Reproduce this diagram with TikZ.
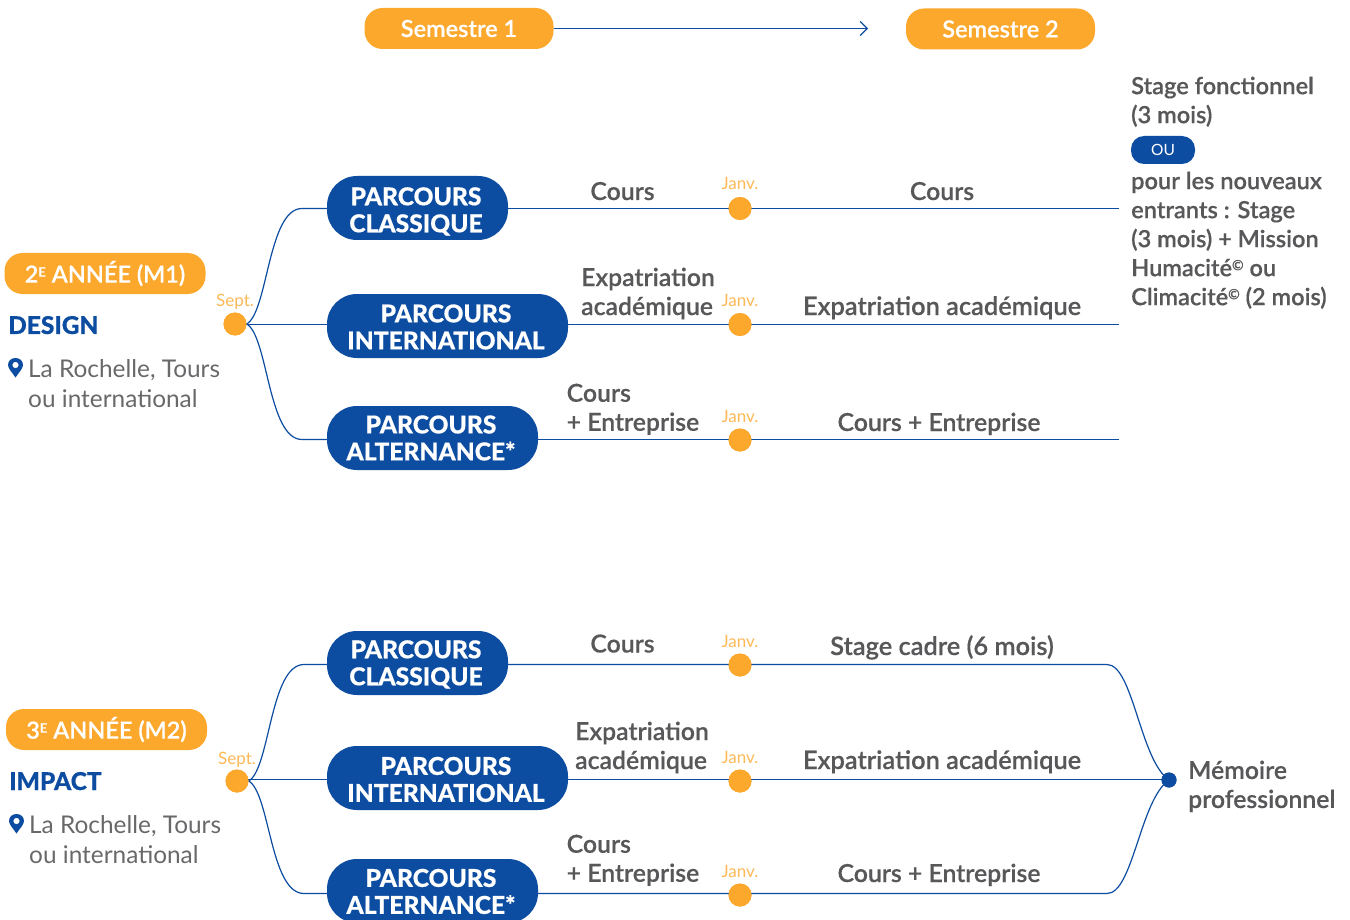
\documentclass[tikz,border=0pt]{standalone}
\usepackage{fontspec}
\setmainfont{Lato}
\newfontfamily\medfont[FakeBold=0.3]{Lato Semibold}
\newfontfamily\heavyfont[FakeBold=0.5]{Lato Heavy}
\usetikzlibrary{arrows.meta}
\definecolor{navy}{HTML}{0D4DA1}
\definecolor{amber}{HTML}{FCA82D}
\definecolor{greytxt}{HTML}{58585A}
\tikzset{
  pill/.style={fill=navy,text=white,rounded corners=30pt,minimum height=64pt,inner sep=0pt,align=center,font=\fontsize{24.6}{27}\selectfont\heavyfont},
  sem/.style={fill=amber,text=white,rounded corners=18pt,minimum height=41pt,minimum width=189pt,inner sep=0pt,font=\fontsize{23.5}{27}\selectfont\medfont},
  year/.style={fill=amber,text=white,rounded corners=18pt,minimum height=41pt,minimum width=201pt,inner sep=0pt,font=\fontsize{23.5}{27}\selectfont\medfont},
  lbl/.style={text=greytxt,inner sep=0pt,align=left,font=\fontsize{24.8}{29}\selectfont\medfont},
  wide/.style={font=\fontsize{25.4}{29}\selectfont\medfont},
  side/.style={font=\fontsize{23.6}{29}\selectfont\medfont},
  mon/.style={text=amber!80!white,inner sep=0pt,font=\fontsize{17}{18}\selectfont},
  dot/.style={circle,fill=amber,minimum size=23pt,inner sep=0pt},
  enddot/.style={circle,fill=navy,minimum size=15pt,inner sep=0pt},
  head/.style={text=navy,inner sep=0pt,anchor=base west,font=\fontsize{24.5}{29}\selectfont\heavyfont},
  place/.style={text=greytxt!90,inner sep=0pt,align=left,font=\fontsize{24.4}{29.5}\selectfont},
  link/.style={draw=navy,line width=1.2pt},
}
\newcommand{\pinicon}[2]{%
  \fill[navy,even odd rule,shift={(#1,#2)}] (0,9.5) .. controls (-3,5) and (-7.5,0.5) .. (-7.5,-3) .. controls (-7.5,-7.3) and (-4,-10) .. (0,-10) .. controls (4,-10) and (7.5,-7.3) .. (7.5,-3) .. controls (7.5,0.5) and (3,5) .. (0,9.5) -- cycle (0,-3) circle (3.2);}
\newcommand{\supE}{\raisebox{6pt}{\fontsize{13}{13}\selectfont E}}
\newcommand{\copyr}{\raisebox{6pt}{\fontsize{14}{14}\selectfont ©}}
\newcommand{\pad}[1]{\rule{0pt}{#1pt}}
\newcommand{\lft}{\hspace*{3pt}}
\newcommand{\dn}[1]{\raisebox{-1pt}{#1}}
\begin{document}
\begin{tikzpicture}[x=1pt,y=-1pt]
\useasboundingbox[fill=white] (0,0) rectangle (1350,920);
% header
\node[sem] (s1) at (459,28.5) {\dn{Semestre 1}};
\node[sem] (s2) at (1000.5,29) {Semestre 2};
\coordinate (arrowend) at (868,28.5);
\draw[link,-{Straight Barb[length=7pt,width=14pt,line width=1.2pt]}] (s1.east) -- (arrowend);

% ---- M1
\node[year] (y1) at (105,273.5) {\dn{2\supE{} ANNÉE (M1)}};
\node[head] (design) at (8,334) {DESIGN};
\pinicon{15.5}{368}
\node[place,anchor=north west] (place1) at (28,359.5) {La Rochelle, Tours\\ou international};
\node[dot] (sept1) at (235,324) {};
\node[mon,anchor=base] (sl1) at (235,306) {Sept.};

\node[pill,minimum width=181pt] (c1) at (417.5,208) {\pad{25}PARCOURS\lft\\CLASSIQUE\lft};
\node[pill,minimum width=241pt] (i1) at (447.5,326) {\pad{20}PARCOURS\lft\\INTERNATIONAL\lft};
\node[pill,minimum width=211pt] (a1) at (432.5,438) {PARCOURS\lft\\ALTERNANCE*\lft};

\coordinate (e1c) at (1119,208.5);
\coordinate (e1i) at (1119,324.5);
\coordinate (e1a) at (1119,439.5);
\node[dot] (j1c) at (740,208.5) {};
\node[dot] (j1i) at (740,324.5) {};
\node[dot] (j1a) at (740,440) {};
\node[mon,anchor=base] (jl1c) at (740,190) {Janv.};
\node[mon,anchor=base] (jl1i) at (740,306) {Janv.};
\node[mon,anchor=base] (jl1a) at (740,422) {Janv.};

\draw[link] (c1.east |- e1c) -- (e1c);
\draw[link] (i1.east |- e1i) -- (e1i);
\draw[link] (a1.east |- e1a) -- (e1a);
\node[dot] at (j1c) {};
\node[dot] at (j1i) {};
\node[dot] at (j1a) {};
\draw[link] (sept1.center |- e1i) -- (i1.west |- e1i);
\draw[link] (sept1.east) .. controls (268,312) and (268,208.5) .. (302,208.5) -- (c1.west |- e1c);
\draw[link] (sept1.east) .. controls (268,336) and (268,439.5) .. (302,439.5) -- (a1.west |- e1a);
\node[dot] at (sept1) {};

\node[lbl,anchor=base] (t1) at (622.5,200) {Cours};
\node[lbl,anchor=base] (t2) at (942,200) {Cours};
\node[lbl,anchor=north west] (t3) at (581,267.5) {Expatriation\\académique};
\node[lbl,wide,anchor=base] (t4) at (942,315) {Expatriation académique};
\node[lbl,anchor=north west] (t5) at (566.5,383.5) {Cours\\+ Entreprise};
\node[lbl,anchor=base] (t6) at (939,431) {Cours + Entreprise};

\node[lbl,side,anchor=north west] (st1) at (1131,76.5) {Stage fonctionnel\\(3 mois)};
\node[fill=navy,text=white,rounded corners=13pt,minimum width=64pt,minimum height=28pt,inner sep=0pt,font=\fontsize{15.5}{18}\selectfont] (ou) at (1163,150) {\dn{OU}};
\node[lbl,side,anchor=north west] (st2) at (1131,171.5) {pour les nouveaux\\entrants : Stage\\(3 mois) + Mission\\Humacité\copyr{} ou\\Climacité\copyr{} (2 mois)};

% ---- M2
\node[year] (y2) at (106.5,729.5) {\dn{3\supE{} ANNÉE (M2)}};
\node[head] (impact) at (9,790) {IMPACT};
\pinicon{16.5}{824}
\node[place,anchor=north west] (place2) at (29,815.5) {La Rochelle, Tours\\ou international};
\node[dot] (sept2) at (237,781) {};
\node[mon,anchor=base] (sl2) at (237,764) {Sept.};

\node[pill,minimum width=181pt] (c2) at (417.5,663) {\pad{21}PARCOURS\lft\\CLASSIQUE\lft};
\node[pill,minimum width=241pt] (i2) at (447.5,778) {\pad{21}PARCOURS\lft\\INTERNATIONAL\lft};
\node[pill,minimum width=211pt] (a2) at (432.5,891) {\pad{19}PARCOURS\lft\\ALTERNANCE*\lft};

\node[enddot] (mem) at (1169,780) {};
\node[dot] (j2c) at (740,665) {};
\node[dot] (j2i) at (740,781) {};
\node[dot] (j2a) at (740,895) {};
\node[mon,anchor=base] (jl2c) at (740,647) {Janv.};
\node[mon,anchor=base] (jl2i) at (740,763) {Janv.};
\node[mon,anchor=base] (jl2a) at (740,877) {Janv.};
\coordinate (l2c) at (1107,664.5);
\coordinate (l2i) at (1165,779.5);
\coordinate (l2a) at (1107,893.5);

\draw[link] (c2.east |- l2c) -- (l2c) .. controls (1133,664.5) and (1140,760) .. (mem.center);
\draw[link] (i2.east |- l2i) -- (l2i);
\draw[link] (a2.east |- l2a) -- (l2a) .. controls (1133,893.5) and (1140,800) .. (mem.center);
\draw[link] (sept2.center |- l2i) -- (i2.west |- l2i);
\draw[link] (sept2.east) .. controls (270,769) and (270,664.5) .. (304,664.5) -- (c2.west |- l2c);
\draw[link] (sept2.east) .. controls (270,793) and (270,893.5) .. (304,893.5) -- (a2.west |- l2a);
\node[dot] at (sept2) {};
\node[dot] at (j2c) {};
\node[dot] at (j2i) {};
\node[dot] at (j2a) {};
\node[enddot] at (mem) {};

\node[lbl,anchor=base] (u1) at (622.5,652.5) {Cours};
\node[lbl,wide,anchor=base] (u2) at (942,655) {Stage cadre (6 mois)};
\node[lbl,anchor=north west] (u3) at (575,721.5) {Expatriation\\académique};
\node[lbl,wide,anchor=base] (u4) at (942,769) {Expatriation académique};
\node[lbl,anchor=north west] (u5) at (566.5,834.5) {Cours\\+ Entreprise};
\node[lbl,anchor=base] (u6) at (939,882) {Cours + Entreprise};
\node[lbl,anchor=north west] (mm) at (1188,760.5) {Mémoire\\professionnel};
\end{tikzpicture}
\end{document}
